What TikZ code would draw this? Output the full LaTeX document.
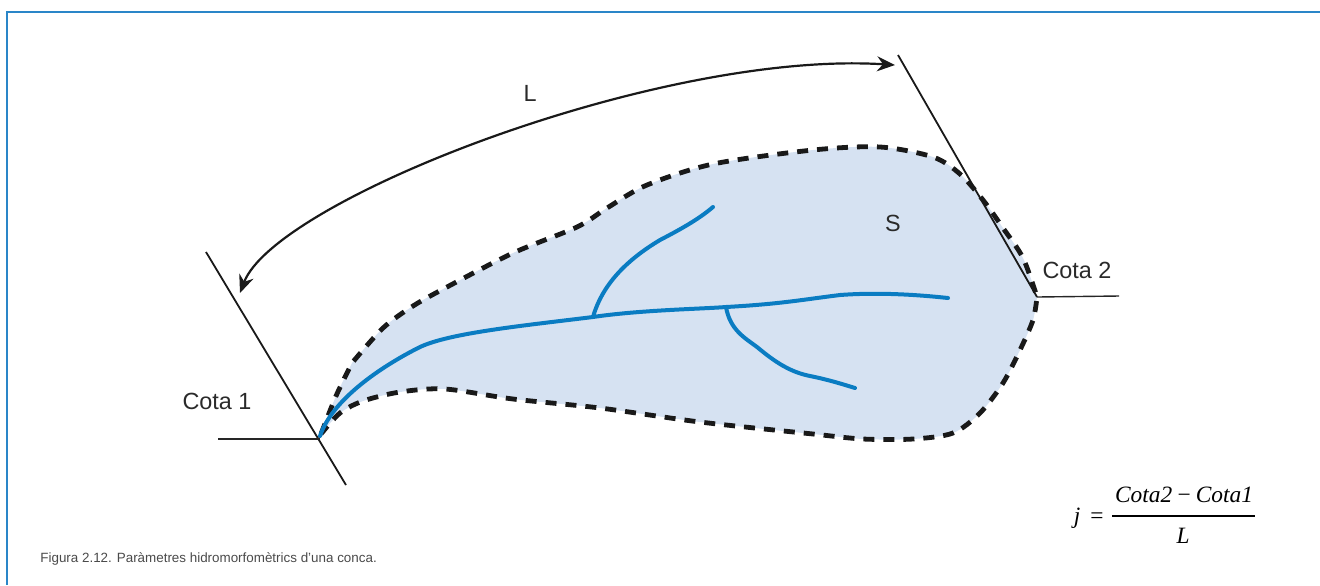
\documentclass[tikz,border=0pt]{standalone}
\usepackage{fontspec}
\setmainfont{Liberation Sans}
\newfontfamily\formfont{Liberation Serif}
\usetikzlibrary{arrows.meta}
\definecolor{framec}{HTML}{2A86C8}
\definecolor{basinfill}{HTML}{D6E2F2}
\definecolor{riverc}{HTML}{0A7CC2}
\definecolor{textc}{HTML}{2A2A2A}
\tikzset{
  framel/.style={draw=framec, line width=1pt},
  tangent/.style={draw=black!90, line width=0.9pt},
  levelline/.style={draw=black!85, line width=0.7pt},
  basin/.style={fill=basinfill},
  boundary/.style={draw=black!90, line width=2.4pt, dash pattern=on 5.5pt off 4.5pt},
  river/.style={draw=riverc, line width=2pt, line cap=round},
  lenarrow/.style={draw=black!90, line width=1.1pt, {Stealth[length=9pt,width=7.5pt,inset=3pt]}-{Stealth[length=9pt,width=7.5pt,inset=3pt]}},
  lbl/.style={text=textc, font=\fontsize{11.7pt}{13pt}\selectfont, inner sep=0pt},
  form/.style={text=black, font=\formfont\itshape\fontsize{11.7pt}{13pt}\selectfont, inner sep=0pt},
  capt/.style={text=textc!85, font=\fontsize{6.7pt}{8pt}\selectfont, inner sep=0pt, anchor=base west}
}
\begin{document}
\begin{tikzpicture}[x=0.5pt, y=-0.5pt]
\useasboundingbox (0,0) rectangle (1320,585);
% frame
\coordinate (ftl) at (7,12);
\coordinate (ftr) at (1320,12);
\coordinate (fbl) at (7,585);
\draw[framel] (fbl) -- (ftl) -- (ftr);

% basin
\def\basinpath{plot[smooth, tension=0.5] coordinates {(321,434) (336,396) (352,363)} -- plot[smooth, tension=0.5] coordinates {(352,363) (383,328) (413,306) (447,287) (513,253) (577,227) (607,208) (647,185) (713,164) (813,150) (880,147) (933,157) (960,174) (983,200) (1003,228) (1023,258) (1037,297)} -- plot[smooth, tension=0.5] coordinates {(1037,297) (1033,320) (1020,350) (1003,383) (980,413) (953,433) (913,439) (863,439) (813,434) (700,422) (600,408) (513,399) (445,389) (400,392) (363,401) (340,413) (321,434)} -- cycle}
\fill[basin] \basinpath;
\draw[boundary] \basinpath;

% rivers
\coordinate (outlet) at (320,436);
\coordinate (j1) at (593,317);
\coordinate (j2) at (726,307);
\draw[river] (outlet) .. controls (332,400) and (380,367) .. (420,347)
  .. controls (450,333) and (520,326) .. (j1)
  .. controls (640,310) and (700,309) .. (j2)
  .. controls (780,304) and (800,300) .. (840,295)
  .. controls (880,292) and (920,295) .. (948,298) coordinate (rend);
\draw[river] (j1) .. controls (603,282) and (630,258) .. (660,240)
  .. controls (685,227) and (700,218) .. (713,207) coordinate (b1end);
\draw[river] (j2) .. controls (730,330) and (745,338) .. (757,347)
  .. controls (775,362) and (790,372) .. (810,376)
  .. controls (830,380) and (845,385) .. (855,388) coordinate (b2end);

% tangent lines
\coordinate (t1a) at (206,252);
\coordinate (t1b) at (346,485);
\coordinate (t2a) at (898,55);
\coordinate (t2b) at (1037,297);
\draw[tangent] (t1a) -- (t1b);
\draw[tangent] (t2a) -- (t2b);
\coordinate (c1a) at (218,439);
\coordinate (c1b) at (320,439);
\coordinate (c2b) at (1119,296);
\draw[levelline] (c1a) -- (c1b);
\draw[levelline] (t2b) -- (c2b);

% length arrow
\coordinate (arrL) at (240,293);
\coordinate (arrR) at (895,65);
\draw[lenarrow] (arrL) .. controls (275,200) and (660,50) .. (arrR);

% labels
\node[lbl] (Llab) at (530,93) {L};
\node[lbl] (Slab) at (893,223) {S};
\node[lbl] (cota1) at (217,401) {Cota 1};
\node[lbl] (cota2) at (1077,270) {Cota 2};

% formula
\node[form, anchor=base] (jvar) at (1077,523) {j};
\node[text=black, font=\formfont\fontsize{11.7pt}{13pt}\selectfont, inner sep=0pt, anchor=base] (eq) at (1097,523) {=};
\node[form, anchor=base] (num) at (1184,502) {Cota2\,−\,Cota1};
\coordinate (fracl) at (1112,516);
\coordinate (fracr) at (1255,516);
\draw[black, line width=0.6pt] (fracl) -- (fracr);
\node[form, anchor=base] (den) at (1183,543) {L};

% caption
\node[capt] (caption) at (40,562) {Figura 2.12. Paràmetres hidromorfomètrics d’una conca.};
\end{tikzpicture}
\end{document}
